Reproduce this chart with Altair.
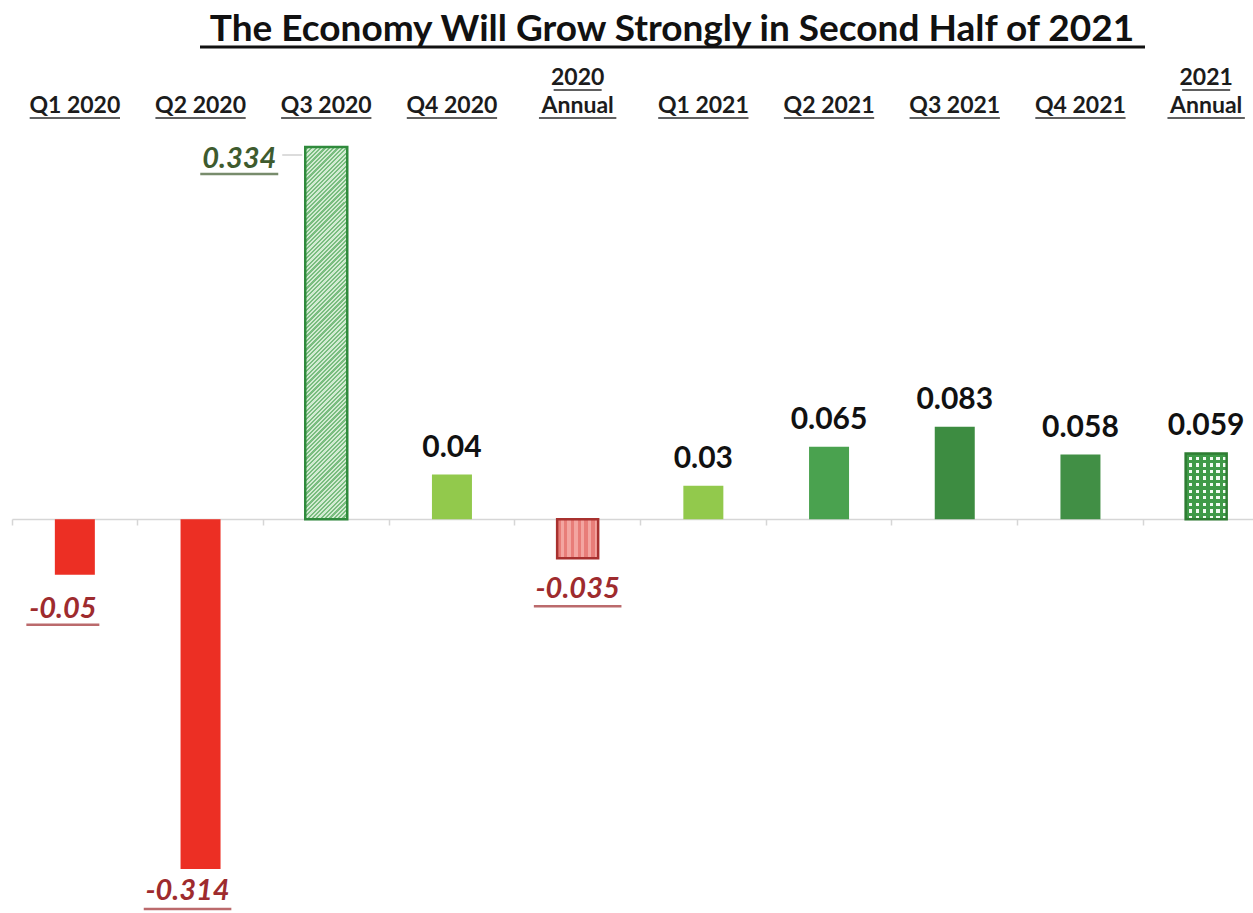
import altair as alt
import pandas as pd

categories = ["Q1 2020", "Q2 2020", "Q3 2020", "Q4 2020", "2020 Annual",
              "Q1 2021", "Q2 2021", "Q3 2021", "Q4 2021", "2021 Annual"]
values = [-0.05, -0.314, 0.334, 0.04, -0.035, 0.03, 0.065, 0.083, 0.058, 0.059]
head_line1 = ["", "", "", "", "2020", "", "", "", "", "2021"]
head_line2 = ["Q1 2020", "Q2 2020", "Q3 2020", "Q4 2020", "Annual",
              "Q1 2021", "Q2 2021", "Q3 2021", "Q4 2021", "Annual"]
fills = ["#ec2f24", "#ec2f24", "#a6d3a6", "#92c94c", "#ee9590",
         "#92c94c", "#4aa24f", "#3d8c41", "#418f45", "#3f9a48"]
patterns = ["solid", "solid", "diag", "solid", "vstripe",
            "solid", "solid", "solid", "solid", "checker"]
label_style = ["neg", "neg", "callout", "plain", "neg",
               "plain", "plain", "plain", "plain", "plain"]
title_text = "The Economy Will Grow Strongly in Second Half of 2021"

df = pd.DataFrame({
    "cat": categories,
    "val": values,
    "label": [f"{v:g}" for v in values],
    "line1": head_line1,
    "line2": head_line2,
    "fill": fills,
    "pattern": patterns,
    "style": label_style,
})

H = 912
ZERO_Y = 519
FONT = "Lato"

X = alt.X("cat:N", sort=categories,
          scale=alt.Scale(domain=categories, range=[12, 1269],
                          paddingInner=0, paddingOuter=0),
          axis=alt.Axis(labels=False, title=None, grid=False,
                        domainColor="#d6d6d6", domainWidth=1.5,
                        tickColor="#d6d6d6", tickWidth=1.5, tickSize=6,
                        bandPosition=0, offset=ZERO_Y - H))
Y = alt.Y("val:Q", stack=None,
          scale=alt.Scale(domain=[-0.314, 0.334], range=[869, 147],
                          nice=False, zero=False),
          axis=None)

base = alt.Chart(df)


def stripe_stops(c1, c2, periods, frac=0.5):
    stops = []
    for i in range(periods):
        a = i / periods
        m = (i + frac) / periods
        b = (i + 1) / periods
        stops += [alt.GradientStop(offset=round(a, 5), color=c1),
                  alt.GradientStop(offset=round(m, 5), color=c1),
                  alt.GradientStop(offset=round(m, 5), color=c2),
                  alt.GradientStop(offset=round(b, 5), color=c2)]
    return stops


solid = base.transform_filter("datum.pattern == 'solid'").mark_bar(width=40).encode(
    x=X, y=Y, y2=alt.datum(0), color=alt.Color("fill:N", scale=None))

diag_grad = alt.LinearGradient(gradient="linear",
                               stops=stripe_stops("#d2ebd2", "#79bd7f", 95, 0.5),
                               x1=0, y1=0, x2=0.124, y2=1.099)
diag = base.transform_filter("datum.pattern == 'diag'").mark_bar(
    width=42, fill=diag_grad, stroke="#2f8a3c", strokeWidth=2.5).encode(
    x=X, y=Y, y2=alt.datum(0))

vs_grad = alt.LinearGradient(gradient="linear",
                             stops=stripe_stops("#e87d78", "#f3a5a0", 6),
                             x1=0, y1=0, x2=1, y2=0)
vstripe = base.transform_filter("datum.pattern == 'vstripe'").mark_bar(
    width=41, fill=vs_grad, stroke="#a8312f", strokeWidth=2.5).encode(
    x=X, y=Y, y2=alt.datum(0))

ck_v = alt.LinearGradient(gradient="linear",
                          stops=stripe_stops("#3f9a48", "#f2fbf2", 6),
                          x1=0, y1=0, x2=1, y2=0)
ck_h = alt.LinearGradient(gradient="linear",
                          stops=stripe_stops("#3f9a48", "rgba(0,0,0,0)", 10),
                          x1=0, y1=0, x2=0, y2=1)
check_a = base.transform_filter("datum.pattern == 'checker'").mark_bar(
    width=41, fill=ck_v).encode(x=X, y=Y, y2=alt.datum(0))
check_b = base.transform_filter("datum.pattern == 'checker'").mark_bar(
    width=41, fill=ck_h, stroke="#2e7d32", strokeWidth=2.5).encode(
    x=X, y=Y, y2=alt.datum(0))

# value labels above positive bars
plain = base.transform_filter("datum.style == 'plain'").mark_text(
    font=FONT, fontWeight="bold", fontSize=30, color="#111111",
    baseline="alphabetic", dy=-18).encode(x=X, y=Y, text="label:N")

NEG_COLOR = "#9e2b2e"


def neg_label(cat, dx, dy, ul_dy):
    sub = base.transform_filter(alt.datum.cat == cat).transform_calculate(
        ulen="length(datum.label) * 14.6")
    t = sub.mark_text(
        font=FONT, fontWeight="bold", fontStyle="italic", fontSize=29,
        color=NEG_COLOR, baseline="alphabetic", dy=dy, dx=dx).encode(
        x=X, y=Y, text="label:N")
    u = sub.mark_tick(
        orient="horizontal", thickness=2.5, color=NEG_COLOR,
        yOffset=ul_dy, xOffset=dx).encode(
        x=X, y=Y, size=alt.Size("ulen:Q", scale=None))
    return [t, u]


neg_layers = (neg_label("Q1 2020", -12, 43, 50)
              + neg_label("Q2 2020", -13, 31, 40)
              + neg_label("2020 Annual", 0, 40, 48))

CALL_COLOR = "#3e5b2e"
callout = base.transform_filter("datum.style == 'callout'")
call_text = callout.mark_text(
    font=FONT, fontWeight="bold", fontStyle="italic", fontSize=29,
    color=CALL_COLOR, baseline="alphabetic", dy=21, dx=-87).encode(
    x=X, y=Y, text="label:N")
call_line = callout.mark_tick(
    orient="horizontal", thickness=2.5, color=CALL_COLOR,
    yOffset=27, xOffset=-87, size=78).encode(x=X, y=Y)
call_leader = callout.mark_tick(
    orient="horizontal", thickness=1, color="#9a9a9a",
    yOffset=8, xOffset=-34, size=20).encode(x=X, y=Y)

# header category labels
HEAD_COLOR = "#1c1c1c"
head2 = base.transform_calculate(ulen="length(datum.line2) * 12.9")
head2_text = head2.mark_text(
    font=FONT, fontWeight="bold", fontSize=23, color=HEAD_COLOR,
    baseline="alphabetic").encode(x=X, y=alt.value(113), text="line2:N")
head2_line = head2.mark_tick(
    orient="horizontal", thickness=2, color=HEAD_COLOR).encode(
    x=X, y=alt.value(118), size=alt.Size("ulen:Q", scale=None))
head1 = base.transform_filter("datum.line1 != ''").transform_calculate(
    ulen="length(datum.line1) * 12")
head1_text = head1.mark_text(
    font=FONT, fontWeight="bold", fontSize=23, color=HEAD_COLOR,
    baseline="alphabetic").encode(x=X, y=alt.value(85), text="line1:N")
head1_line = head1.mark_tick(
    orient="horizontal", thickness=2, color=HEAD_COLOR).encode(
    x=X, y=alt.value(90), size=alt.Size("ulen:Q", scale=None))

# title
title_df = pd.DataFrame({"t": [title_text]})
title = alt.Chart(title_df).mark_text(
    font=FONT, fontWeight="bold", fontSize=37, color="#111111",
    baseline="alphabetic", align="center").encode(
    x=alt.value(672), y=alt.value(41), text="t:N")
title_ul = alt.Chart(title_df).mark_rule(color="#111111", strokeWidth=3).encode(
    x=alt.value(200), x2=alt.value(1145), y=alt.value(47))

chart = alt.layer(
    solid, diag, vstripe, check_a, check_b,
    plain, *neg_layers,
    call_text, call_line, call_leader,
    head2_text, head2_line, head1_text, head1_line,
    title, title_ul,
).properties(
    width=1253, height=H, autosize="none", padding=0, background="white"
).configure_view(stroke=None)

chart.save("out.html", embed_options={"renderer": "svg", "actions": False})
